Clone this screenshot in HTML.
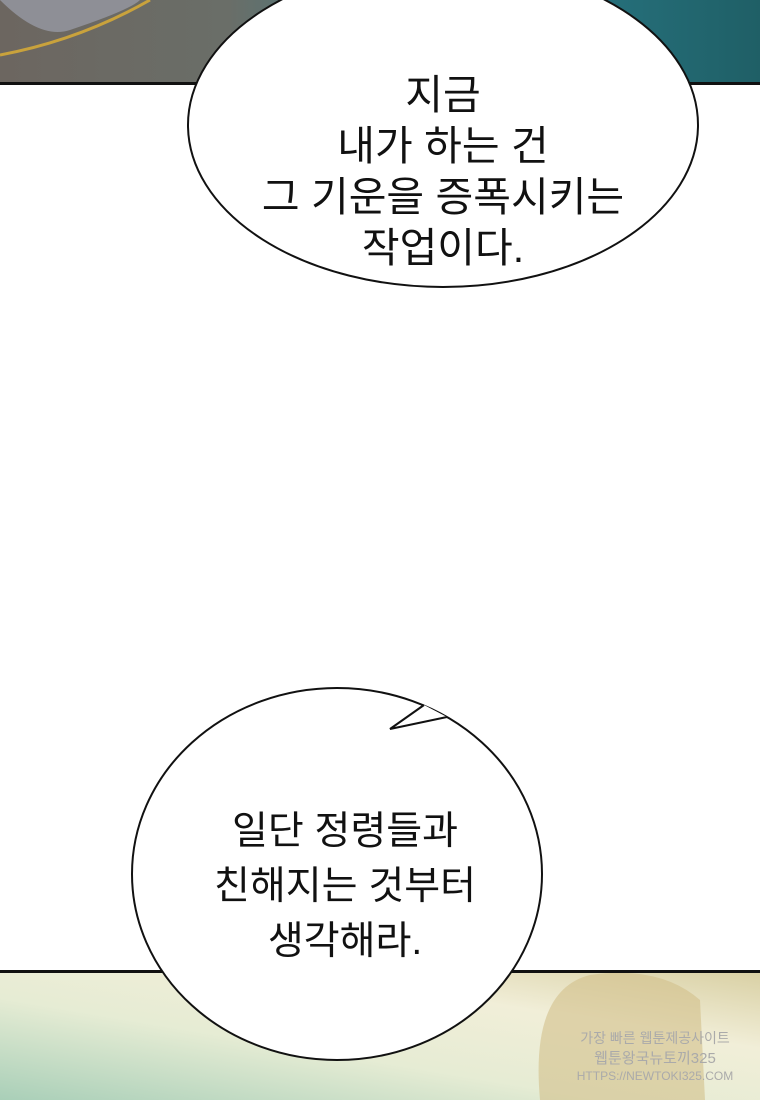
<!DOCTYPE html>
<html><head><meta charset="utf-8"><style>
body{margin:0;width:760px;height:1100px;overflow:hidden;background:#fff;position:relative;font-family:"Liberation Sans","Noto Sans CJK KR",sans-serif}
.t{position:absolute;text-align:center;color:#111;font-size:41px;line-height:51px}
</style></head><body>
<svg width="760" height="1100" style="position:absolute;left:0;top:0">
<defs>
<linearGradient id="top" x1="0" x2="1"><stop offset="0" stop-color="#6c6660"/><stop offset="0.3" stop-color="#6a6e68"/><stop offset="0.6" stop-color="#2c7f8e"/><stop offset="1" stop-color="#1f5f66"/></linearGradient>
<linearGradient id="bot" x1="0" y1="1" x2="1" y2="0"><stop offset="0" stop-color="#a9cfb8"/><stop offset="0.4" stop-color="#e6ecd4"/><stop offset="0.7" stop-color="#f1eed8"/><stop offset="1" stop-color="#d9d0a4"/></linearGradient>
</defs>
<rect x="0" y="0" width="760" height="83" fill="url(#top)"/>
<path d="M0 0 Q40 40 70 30 Q130 10 140 0 Z" fill="#8e8f96"/>
<path d="M0 55 Q80 40 150 0" stroke="#c9a23c" stroke-width="3" fill="none"/>
<rect x="0" y="82" width="760" height="3" fill="#111"/>
<rect x="0" y="972" width="760" height="128" fill="url(#bot)"/>
<path d="M540 1100 Q530 990 590 975 Q660 965 700 1000 L705 1100 Z" fill="#d2c08a" opacity="0.6"/>
<rect x="0" y="970" width="760" height="3" fill="#111"/>
<ellipse cx="443" cy="125" rx="255" ry="162" fill="#fff" stroke="#111" stroke-width="2"/>
<ellipse cx="337" cy="874" rx="205" ry="186" fill="#fff" stroke="#111" stroke-width="2"/>
<path d="M424 705 L390 729 L447 717 Z" fill="#fff"/>
<path d="M418 702 L424 705 L390 729 L447 717 L452 720" fill="none" stroke="#fff" stroke-width="0"/>
<path d="M424 705 L390 729 L447 717" fill="none" stroke="#111" stroke-width="2" stroke-linejoin="miter"/>
<text x="655" y="1043" font-size="14" fill="#aaa" text-anchor="middle" font-family="Liberation Sans,Noto Sans CJK KR,sans-serif">가장 빠른 웹툰제공사이트</text>
<text x="655" y="1063" font-size="15" fill="#aaa" text-anchor="middle" font-family="Liberation Sans,Noto Sans CJK KR,sans-serif">웹툰왕국뉴토끼325</text>
<text x="655" y="1080" font-size="12" fill="#aaa" text-anchor="middle" font-family="Liberation Sans,sans-serif">HTTPS://NEWTOKI325.COM</text>
</svg>
<div class="t" style="left:193px;width:500px;top:70px">지금<br>내가 하는 건<br>그 기운을 증폭시키는<br>작업이다.</div>
<div class="t" style="left:145px;width:400px;top:804px;line-height:55px;font-size:39px">일단 정령들과<br>친해지는 것부터<br>생각해라.</div>
</body></html>
